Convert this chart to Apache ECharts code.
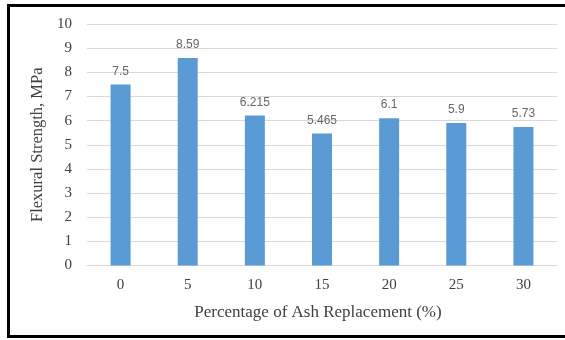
<!DOCTYPE html>
<html>
<head>
<meta charset="utf-8">
<script src="https://cdn.jsdelivr.net/npm/echarts@6/dist/echarts.min.js"></script>
<style>
  html, body { margin: 0; padding: 0; background: #ffffff; }
  #chart { width: 565px; height: 340px; }
</style>
</head>
<body>
<div id="chart"></div>
<script>
// Ash replacement levels (%) and measured flexural strength (MPa)
const categories = ['0', '5', '10', '15', '20', '25', '30'];
const strength = [7.5, 8.59, 6.215, 5.465, 6.1, 5.9, 5.73];
const yTicks = [0, 1, 2, 3, 4, 5, 6, 7, 8, 9, 10];

const chart = echarts.init(document.getElementById('chart'), null, { renderer: 'canvas' });

const serif = '"Liberation Serif", "DejaVu Serif", serif';
const sans = '"Liberation Sans", "DejaVu Sans", sans-serif';

chart.setOption({
  backgroundColor: '#ffffff',
  animation: false,
  graphic: [{
    type: 'rect',
    shape: { x: 8.5, y: 5.5, width: 600, height: 331 },
    style: { fill: 'none', stroke: '#000000', lineWidth: 3 },
    silent: true
  }],
  grid: { left: 87, right: 8, top: 24, bottom: 74.5, containLabel: false },
  xAxis: {
    type: 'category',
    data: categories,
    name: 'Percentage of Ash Replacement (%)',
    nameLocation: 'middle',
    nameGap: 39,
    nameTextStyle: { fontFamily: serif, fontSize: 17, color: '#404040', padding: [0, 8, 0, 0] },
    axisLine: { show: true, lineStyle: { color: '#d9d9d9', width: 1 } },
    axisTick: { show: false },
    axisLabel: { fontFamily: serif, fontSize: 15, color: '#404040', margin: 12 }
  },
  yAxis: {
    type: 'value',
    min: yTicks[0],
    max: yTicks[yTicks.length - 1],
    interval: 1,
    name: 'Flexural Strength, MPa',
    nameLocation: 'middle',
    nameGap: 40,
    nameTextStyle: { fontFamily: serif, fontSize: 16.5, color: '#404040' },
    axisLine: { show: false },
    axisTick: { show: false },
    splitLine: { lineStyle: { color: '#d9d9d9', width: 1 } },
    axisLabel: { fontFamily: serif, fontSize: 15, color: '#404040', margin: 15 }
  },
  series: [{
    type: 'bar',
    data: strength,
    barWidth: 20,
    itemStyle: { color: '#5b9bd5' },
    label: {
      show: true,
      position: 'top',
      distance: 7,
      fontFamily: sans,
      fontSize: 12,
      color: '#666666',
      formatter: (p) => String(p.value)
    }
  }]
});
</script>
</body>
</html>
